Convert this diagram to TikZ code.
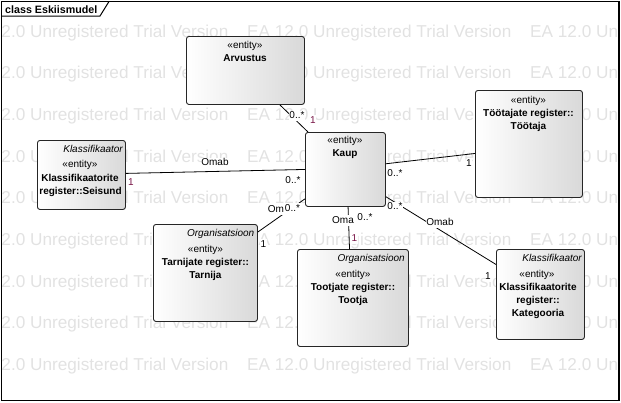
\documentclass[tikz,border=0pt]{standalone}
\usepackage{fontspec}
\setmainfont{Liberation Sans}
\definecolor{wm}{RGB}{226,226,226}
\definecolor{mult}{RGB}{120,20,70}
\begin{document}
\begin{tikzpicture}[x=1pt,y=-1pt,
  box/.style={draw=black!85, line width=0.9pt, rounded corners=2.5pt, left color=white, right color=black!15, anchor=north west, inner sep=0pt},
  txt/.style={font=\fontsize{10}{12}\selectfont, inner sep=0pt, text height=7.5pt, text depth=2pt},
  bname/.style={txt, font=\fontsize{10}{12}\selectfont\bfseries},
  ital/.style={txt, font=\fontsize{10}{12}\selectfont\itshape, anchor=east},
  lab/.style={txt, fill=white, inner sep=0.6pt},
  one/.style={lab, text=mult},
  conn/.style={draw=black, line width=0.8pt},
  wmtext/.style={font=\fontsize{17.2}{20}\selectfont, text=wm, inner sep=0pt, anchor=base west},
]
\useasboundingbox (0,0) rectangle (621,402);

% watermark
\begin{scope}
  \clip (2,2) rectangle (618.5,400);
  \foreach \r in {0,...,8}{
    \foreach \c in {0,1,2}{
      \node[wmtext] (wm-\r-\c) at (-36+283*\c, 37+41.7*\r) {EA 12.0 Unregistered Trial Version};
    }
  }
\end{scope}

% frame
\draw[line width=1.2pt] (1.5,1.5) rectangle (619,400.5);
\draw[line width=1pt] (1.5,16) -- (100,16) -- (109,1.5);
\node[anchor=west, inner sep=0pt, font=\fontsize{10.7}{12}\selectfont\bfseries] (title) at (5,9.5) {class Eskiismudel};

% boxes
\node[box, minimum width=118pt, minimum height=68pt] (arv) at (186,36) {};
\node[box, minimum width=80pt, minimum height=74pt] (kaup) at (305,132) {};
\node[box, minimum width=107pt, minimum height=107pt] (tt) at (475,90) {};
\node[box, minimum width=88pt, minimum height=69pt] (sei) at (37,140) {};
\node[box, minimum width=104pt, minimum height=97pt] (tar) at (153,224) {};
\node[box, minimum width=111pt, minimum height=97pt] (too) at (297,249) {};
\node[box, minimum width=88pt, minimum height=90pt] (kat) at (496,249) {};

% box texts
\node[txt] (arv-s) at (245,46) {«entity»};
\node[bname] (arv-n) at (245,58.5) {Arvustus};

\node[txt] (kaup-s) at (345,141) {«entity»};
\node[bname] (kaup-n) at (345,154) {Kaup};

\node[txt] (tt-s) at (528.5,101) {«entity»};
\node[bname] (tt-n1) at (528.5,114) {Töötajate register::};
\node[bname] (tt-n2) at (528.5,127) {Töötaja};

\node[ital] (sei-t) at (123,150) {Klassifikaator};
\node[txt] (sei-s) at (80,165) {«entity»};
\node[bname] (sei-n1) at (80,179) {Klassifikaatorite};
\node[bname] (sei-n2) at (80.5,192) {register::Seisund};

\node[ital] (tar-t) at (254.5,233.5) {Organisatsioon};
\node[txt] (tar-s) at (205.5,250) {«entity»};
\node[bname] (tar-n1) at (205.5,263) {Tarnijate register::};
\node[bname] (tar-n2) at (205.5,276) {Tarnija};

\node[ital] (too-t) at (405,259) {Organisatsioon};
\node[txt] (too-s) at (353,275) {«entity»};
\node[bname] (too-n1) at (353,288) {Tootjate register::};
\node[bname] (too-n2) at (353,301) {Tootja};

\node[ital] (kat-t) at (582,259) {Klassifikaator};
\node[txt] (kat-s) at (537,275) {«entity»};
\node[bname] (kat-n1) at (538,288) {Klassifikaatorite};
\node[bname] (kat-n2) at (538,301) {register::};
\node[bname] (kat-n3) at (538,314) {Kategooria};

% connectors
\draw[conn] (arv.-45) -- (kaup.135);
\draw[conn] (sei.2) -- (kaup.west);
\draw[conn] (kaup.8.5) -- (tt.190);
\draw[conn] (kaup.216.9) -- (tar.38);
\draw[conn] (kaup.-86.9) -- (too.94.1);
\draw[conn] (kaup.-34) -- (kat.146.6);

% connector labels
\node[lab] (l-arv-m) at (297,116) {0..*};
\node[one] (l-arv-1) at (313,120.5) {1};

\node[lab] (l-sei-o) at (215,163) {Omab};
\node[one] (l-sei-1) at (131,183) {1};
\node[lab] (l-sei-m) at (293,181) {0..*};

\node[lab] (l-tt-1) at (469,164) {1};
\node[lab] (l-tt-m) at (395,174) {0..*};

\node[lab] (l-tar-o) at (276,209.5) {Om};
\node[lab] (l-tar-m) at (292.5,208.5) {0..*};
\node[lab] (l-tar-1) at (263.5,244.5) {1};

\node[lab] (l-too-o) at (343,220.5) {Oma};
\node[lab] (l-too-m) at (365,218) {0..*};
\node[one] (l-too-1) at (354.5,238.5) {1};

\node[lab] (l-kat-m) at (395,207) {0..*};
\node[lab] (l-kat-o) at (440,223) {Omab};
\node[lab] (l-kat-1) at (488,277) {1};
\end{tikzpicture}
\end{document}
